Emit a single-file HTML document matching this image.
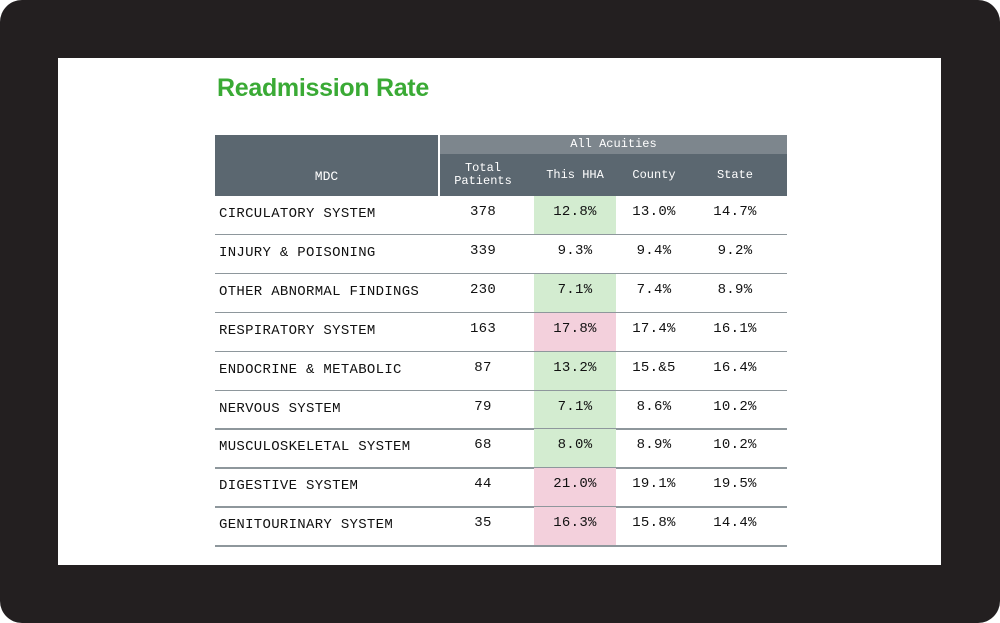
<!DOCTYPE html>
<html><head><meta charset="utf-8"><style>
body{margin:0;width:1000px;height:623px;background:#fff;position:relative;overflow:hidden;font-family:"Liberation Mono",monospace}
#frame{position:absolute;left:0;top:0;width:1000px;height:623px;background:#231f20;border-radius:22px}
#screen{position:absolute;left:58px;top:58px;width:883px;height:507px;background:#fff}
#title{position:absolute;left:217px;top:74px;font:bold 25px "Liberation Sans",sans-serif;color:#3aaa35;letter-spacing:-0.3px}
.a{position:absolute;box-sizing:border-box}
.h{color:#fff;font-size:12px;text-align:center;line-height:13px}
.c{font-size:14px;color:#111;text-align:center;letter-spacing:0.3px}
</style></head><body>
<div id="frame"></div>
<div id="screen"></div>
<div id="title">Readmission Rate</div>
<div id="tbl">
<div class="a" style="left:215px;top:135px;width:223px;height:61px;background:#5b6770"></div>
<div class="a h" style="left:215px;top:170px;width:223px;font-size:13px">MDC</div>
<div class="a" style="left:440px;top:135px;width:347px;height:19px;background:#7d868d"></div>
<div class="a h" style="left:440px;top:138px;width:347px">All Acuities</div>
<div class="a" style="left:440px;top:154px;width:347px;height:42px;background:#5b6770"></div>
<div class="a h" style="left:440px;top:162px;width:86px">Total<br>Patients</div>
<div class="a h" style="left:534px;top:169px;width:82px">This HHA</div>
<div class="a h" style="left:616px;top:169px;width:76px">County</div>
<div class="a h" style="left:692px;top:169px;width:86px">State</div>
</div>
<script>
const mdc=["CIRCULATORY SYSTEM","INJURY & POISONING","OTHER ABNORMAL FINDINGS","RESPIRATORY SYSTEM","ENDOCRINE & METABOLIC","NERVOUS SYSTEM","MUSCULOSKELETAL SYSTEM","DIGESTIVE SYSTEM","GENITOURINARY SYSTEM"];
const totals=["378","339","230","163","87","79","68","44","35"];
const hha=["12.8%","9.3%","7.1%","17.8%","13.2%","7.1%","8.0%","21.0%","16.3%"];
const county=["13.0%","9.4%","7.4%","17.4%","15.&5","8.6%","8.9%","19.1%","15.8%"];
const state=["14.7%","9.2%","8.9%","16.1%","16.4%","10.2%","10.2%","19.5%","14.4%"];
const hhaColor=["g","","g","p","g","g","g","p","p"];
const tbl=document.getElementById('tbl');
const top0=196,rh=38.9;
function mk(name,style,text,cls){const d=document.createElement('div');d.className='a '+(cls||'');d.style.cssText=style;if(text!==undefined)d.textContent=text;


tbl.appendChild(d);return d;}
mdc.forEach((m,i)=>{const y=top0+i*rh;
if(hhaColor[i])mk('hha-highlight-'+i,`left:534px;top:${y}px;width:82px;height:${rh}px;background:${hhaColor[i]=='g'?'#d3ecd0':'#f3d0dc'}`);
mk('row-divider-'+i,`left:215px;top:${y+rh-1}px;width:572px;height:1.5px;background:#8e979c`);
const ty=y+10;
mk('mdc-label-'+i,`left:219px;top:${ty}px;text-align:left`,m,'c');
mk('total-patients-'+i,`left:440px;top:${ty-2}px;width:86px`,totals[i],'c');
mk('this-hha-'+i,`left:534px;top:${ty-2}px;width:82px`,hha[i],'c');
mk('county-'+i,`left:616px;top:${ty-2}px;width:76px`,county[i],'c');
mk('state-'+i,`left:692px;top:${ty-2}px;width:86px`,state[i],'c');
});
</script>
</body></html>
